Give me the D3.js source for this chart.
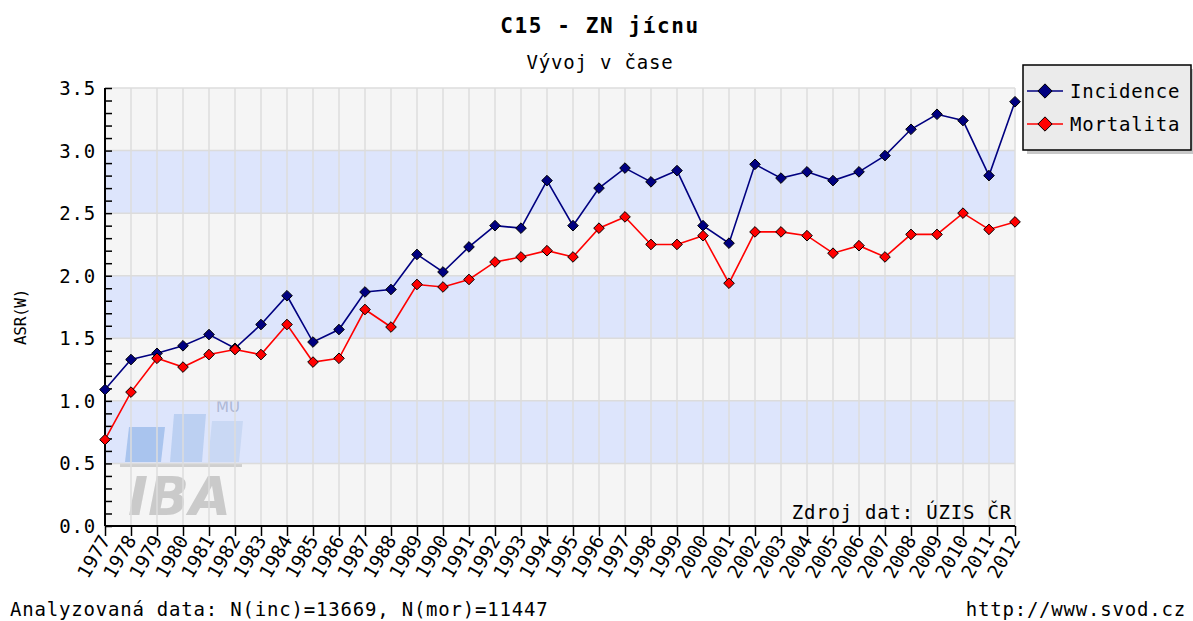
<!DOCTYPE html>
<html lang="cs">
<head>
<meta charset="UTF-8" />
<title>C15 - ZN jícnu</title>
<script src="https://d3js.org/d3.v7.min.js"></script>
<style>
    body { margin: 0; background: #fff; }
    svg text { font-family: "DejaVu Sans Mono", "Liberation Mono", monospace; fill: #000; }
    .txt { font-size: 19px; letter-spacing: 0.8px; }
    .grid line { stroke: #dcdcdc; stroke-width: 1.5px; }
</style>
</head>
<body>
<div id="chart"></div>
<script>
    const years = d3.range(1977, 2013);
    const incidence = [1.09, 1.33, 1.38, 1.44, 1.53, 1.42, 1.61, 1.84, 1.47, 1.57,
                       1.87, 1.89, 2.17, 2.03, 2.23, 2.40, 2.38, 2.76, 2.40, 2.70,
                       2.86, 2.75, 2.84, 2.40, 2.26, 2.89, 2.78, 2.83, 2.76, 2.83,
                       2.96, 3.17, 3.29, 3.24, 2.80, 3.39];
    const mortalita = [0.69, 1.07, 1.34, 1.27, 1.37, 1.41, 1.37, 1.61, 1.31, 1.34,
                       1.73, 1.59, 1.93, 1.91, 1.97, 2.11, 2.15, 2.20, 2.15, 2.38,
                       2.47, 2.25, 2.25, 2.32, 1.94, 2.35, 2.35, 2.32, 2.18, 2.24,
                       2.15, 2.33, 2.33, 2.50, 2.37, 2.43];
    const seriesNames = ["Incidence", "Mortalita"];
    const yTicks = [0, 0.5, 1.0, 1.5, 2.0, 2.5, 3.0, 3.5];

    const W = 1193, H = 621;
    const plot = { left: 105, right: 1015, top: 88, bottom: 526 };

    const svg = d3.select("#chart").append("svg")
        .attr("width", W).attr("height", H);

    const x = d3.scaleLinear().domain([1977, 2012]).range([plot.left, plot.right]);
    const y = d3.scaleLinear().domain([0, 3.5]).range([plot.bottom, plot.top]);

    // alternating bands
    const bands = d3.range(0, 3.5, 0.5);
    svg.append("g").selectAll("rect")
        .data(bands)
        .enter().append("rect")
        .attr("x", plot.left)
        .attr("width", plot.right - plot.left)
        .attr("y", d => y(d + 0.5))
        .attr("height", d => y(d) - y(d + 0.5))
        .attr("fill", (d, i) => i % 2 === 1 ? "#dde5fc" : "#f5f5f5");

    // IBA watermark
    const wm = svg.append("g");
    [[125, 427, 40], [170, 414, 36], [208, 421, 35]].forEach(([bx, by, bw], i) => {
        const yb = 462;
        wm.append("path")
            .attr("d", `M${bx},${yb} L${bx + 4},${by} L${bx + bw},${by} L${bx + bw - 4},${yb} Z`)
            .attr("fill", ["#a9c4ee", "#bcd0f2", "#c9d8f4"][i]);
    });
    wm.append("rect").attr("x", 120).attr("y", 463).attr("width", 122).attr("height", 4).attr("fill", "#cfcfcf");
    wm.append("text").attr("x", 128).attr("y", 515)
        .style("font-family", "'DejaVu Sans', sans-serif")
        .style("font-size", "54px").style("font-weight", "bold").style("font-style", "italic")
        .style("fill", "#cacaca").text("IBA");
    wm.append("text").attr("x", 216).attr("y", 412)
        .style("font-family", "'DejaVu Sans', sans-serif")
        .style("font-size", "15px").style("fill", "#aeb8d4").text("MU");

    // grid
    const grid = svg.append("g").attr("class", "grid");
    grid.selectAll(".v").data(years.slice(1)).enter().append("line")
        .attr("x1", d => x(d)).attr("x2", d => x(d))
        .attr("y1", plot.top).attr("y2", plot.bottom);
    grid.selectAll(".h").data(yTicks.slice(1)).enter().append("line")
        .attr("x1", plot.left).attr("x2", plot.right)
        .attr("y1", d => y(d)).attr("y2", d => y(d));

    // y axis (ticks inside)
    const yAxis = svg.append("g")
        .attr("transform", `translate(${plot.left},0)`)
        .call(d3.axisRight(y).tickValues(d3.range(0, 3.51, 0.1)).tickSize(7).tickFormat(""));
    yAxis.select(".domain").attr("stroke", "#000").attr("stroke-width", 2).attr("d", `M0,${plot.top}V${plot.bottom}`);
    yAxis.selectAll(".tick line").attr("stroke", "#000").attr("stroke-width", 1.5);

    svg.append("g").selectAll("text")
        .data(yTicks)
        .enter().append("text")
        .attr("class", "txt")
        .attr("x", 96)
        .attr("y", d => y(d) + 7)
        .attr("text-anchor", "end")
        .text(d => d.toFixed(1));

    // x axis
    const xAxis = svg.append("g")
        .attr("transform", `translate(0,${plot.bottom})`)
        .call(d3.axisBottom(x).tickValues(years).tickSize(10).tickFormat(""));
    xAxis.select(".domain").attr("stroke", "#000").attr("stroke-width", 2).attr("d", `M${plot.left},0H${plot.right}`);
    xAxis.selectAll(".tick line").attr("stroke", "#000").attr("stroke-width", 1.5);

    svg.append("g").selectAll("text")
        .data(years)
        .enter().append("text")
        .attr("class", "txt")
        .style("letter-spacing", "0px")
        .attr("text-anchor", "end")
        .attr("transform", d => `translate(${x(d) + 6},${plot.bottom + 14}) rotate(-60)`)
        .text(d => d);

    // lines + markers
    const colors = { Incidence: "#000080", Mortalita: "#ff0000" };
    const values = { Incidence: incidence, Mortalita: mortalita };
    const diamond = d3.symbol().type(d3.symbolDiamond2).size(72);

    seriesNames.forEach(name => {
        const pts = years.map((yr, i) => [yr, values[name][i]]);
        svg.append("path")
            .datum(pts)
            .attr("fill", "none")
            .attr("stroke", colors[name])
            .attr("stroke-width", 1.6)
            .attr("d", d3.line().x(d => x(d[0])).y(d => y(d[1])));
        svg.append("g").selectAll("path")
            .data(pts)
            .enter().append("path")
            .attr("transform", d => `translate(${x(d[0])},${y(d[1])})`)
            .attr("d", diamond)
            .attr("fill", colors[name])
            .attr("stroke", "#000")
            .attr("stroke-width", 1);
    });

    // titles
    svg.append("text").attr("x", 600).attr("y", 33).attr("text-anchor", "middle")
        .style("font-size", "21px").style("font-weight", "bold").style("letter-spacing", "1.6px")
        .text("C15 - ZN jícnu");
    svg.append("text").attr("class", "txt").attr("x", 600).attr("y", 69).attr("text-anchor", "middle")
        .text("Vývoj v čase");

    svg.append("text")
        .attr("transform", `translate(26,${(plot.top + plot.bottom) / 2 + 10}) rotate(-90)`)
        .attr("text-anchor", "middle")
        .style("font-size", "16px").style("letter-spacing", "-0.3px")
        .text("ASR(W)");

    svg.append("text").attr("class", "txt").attr("x", 1012).attr("y", 519).attr("text-anchor", "end")
        .text("Zdroj dat: ÚZIS ČR");
    svg.append("text").attr("class", "txt").attr("x", 10).attr("y", 616)
        .text("Analyzovaná data: N(inc)=13669, N(mor)=11447");
    svg.append("text").attr("class", "txt").attr("x", 1186).attr("y", 616).attr("text-anchor", "end")
        .text("http://www.svod.cz");

    // legend
    const lg = svg.append("g").attr("transform", "translate(1023,65)");
    lg.append("rect").attr("x", 4).attr("y", 4).attr("width", 168).attr("height", 85).attr("fill", "#c8c8c8");
    lg.append("rect").attr("width", 168).attr("height", 85).attr("fill", "#ebebeb")
        .attr("stroke", "#000").attr("stroke-width", 1.5);
    seriesNames.forEach((name, i) => {
        const gy = 26 + i * 33;
        lg.append("line").attr("x1", 4).attr("x2", 40).attr("y1", gy).attr("y2", gy)
            .attr("stroke", colors[name]).attr("stroke-width", 1.6);
        lg.append("path").attr("transform", `translate(22,${gy})`)
            .attr("d", d3.symbol().type(d3.symbolDiamond2).size(130))
            .attr("fill", colors[name]).attr("stroke", "#000").attr("stroke-width", 1);
        lg.append("text").attr("class", "txt").attr("x", 47).attr("y", gy + 7).text(name);
    });
</script>
</body>
</html>
